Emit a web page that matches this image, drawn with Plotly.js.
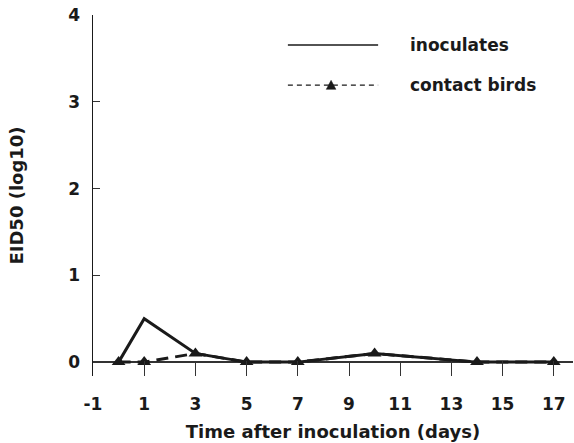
<!DOCTYPE html>
<html>
<head>
<meta charset="utf-8">
<script src="https://cdn.plot.ly/plotly-3.0.1.min.js"></script>
<style>html,body{margin:0;padding:0;background:#fff;}#chart{width:574px;height:443px;}</style>
</head>
<body>
<div id="chart"></div>
<script>
// Data
const days = [0, 1, 3, 5, 7, 10, 14, 17];
const inoculates = [0, 0.5, 0.1, 0, 0, 0.1, 0, 0];
const contactBirds = [0, 0, 0.1, 0, 0, 0.1, 0, 0];
const xTicks = [-1, 1, 3, 5, 7, 9, 11, 13, 15, 17];
const yTicks = [0, 1, 2, 3, 4];
const seriesNames = ["inoculates", "contact birds"];

const FONT = "DejaVu Sans, Arial, sans-serif";
const INK = "#1a1a1a";

const traces = [
  {
    x: days, y: inoculates, mode: "lines", name: seriesNames[0],
    line: {color: INK, width: 3}, showlegend: false
  },
  {
    x: days, y: contactBirds, mode: "lines+markers", name: seriesNames[1],
    line: {color: INK, width: 3, dash: "12px,7px"},
    marker: {symbol: "triangle-up", size: 12, color: INK}, showlegend: false
  }
];

// legend geometry (paper coords)
const lx0 = 0.406, lx1 = 0.594, ly1 = 0.917, ly2 = 0.806, ltx = 0.656;

const layout = {
  width: 574, height: 443,
  margin: {l: 93, r: 1, t: 15, b: 67},
  paper_bgcolor: "#fff", plot_bgcolor: "#fff",
  font: {family: FONT, color: INK},
  showlegend: false,
  xaxis: {
    range: [-1, 17.75], tickvals: xTicks, ticktext: xTicks.map(String),
    ticks: "inside", ticklen: 15, tickwidth: 1, tickcolor: "#333",
    showline: false, showgrid: false, zeroline: false,
    tickfont: {family: FONT, size: 17, weight: "bold", color: INK},
    ticklabelstandoff: 16,
    title: {text: "Time after inoculation (days)", font: {family: FONT, size: 18, weight: "bold", color: INK}, standoff: 12},
    automargin: false
  },
  yaxis: {
    range: [-0.16, 4], tickvals: yTicks, ticktext: yTicks.map(String),
    ticks: "inside", ticklen: 7, tickwidth: 1, tickcolor: "#333",
    showline: true, linecolor: INK, linewidth: 1.5,
    showgrid: false, zeroline: true, zerolinecolor: "#333", zerolinewidth: 1.5,
    tickfont: {family: FONT, size: 17, weight: "bold", color: INK},
    ticklabelstandoff: 8,
    title: {text: "EID50 (log10)", font: {family: FONT, size: 18, weight: "bold", color: INK}, standoff: 40},
    automargin: false
  },
  shapes: [
    {type: "line", xref: "paper", yref: "paper", x0: lx0, x1: lx1, y0: ly1, y1: ly1, line: {color: INK, width: 1.5}},
    {type: "line", xref: "paper", yref: "paper", x0: lx0, x1: lx1, y0: ly2, y1: ly2, line: {color: INK, width: 1.2, dash: "5px,4px"}},
    {type: "path", xref: "paper", yref: "paper", path: "M 0.486 0.794 L 0.506 0.794 L 0.496 0.819 Z", fillcolor: INK, line: {color: INK, width: 0.5}}
  ],
  annotations: [
    {xref: "paper", yref: "paper", x: ltx, y: ly1, xanchor: "left", yanchor: "middle", showarrow: false, text: seriesNames[0], font: {family: FONT, size: 17, weight: "bold", color: INK}},
    {xref: "paper", yref: "paper", x: ltx, y: ly2, xanchor: "left", yanchor: "middle", showarrow: false, text: seriesNames[1], font: {family: FONT, size: 17, weight: "bold", color: INK}}
  ]
};

Plotly.newPlot("chart", traces, layout, {displayModeBar: false, staticPlot: true});
</script>
</body>
</html>
